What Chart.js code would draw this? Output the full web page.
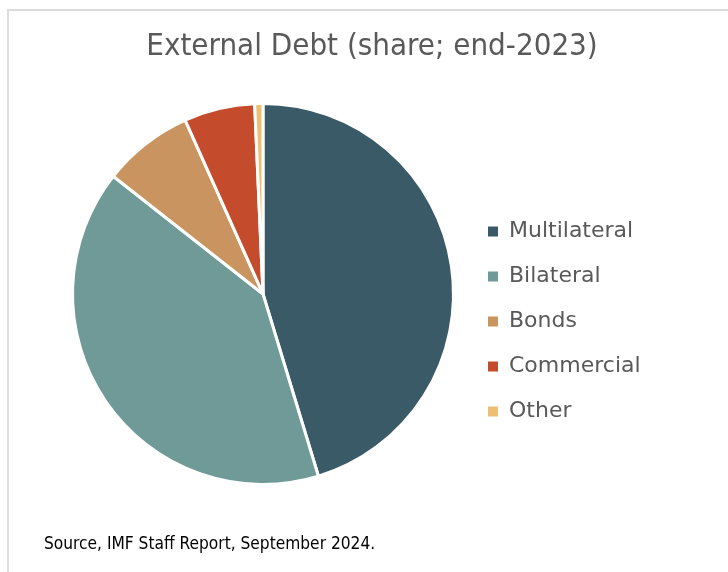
<!DOCTYPE html>
<html>
<head>
<meta charset="utf-8">
<script src="https://cdn.jsdelivr.net/npm/chart.js"></script>
<style>
  body { margin: 0; background: #fff; }
  #wrap { position: relative; width: 728px; height: 572px; overflow: hidden; }
  #frame {
    position: absolute; left: 7px; top: 9px; right: -10px; bottom: -10px;
    border-left: 2px solid #dcdcdc; border-top: 2px solid #dcdcdc;
  }
  #debtChart { position: absolute; left: 0; top: 0; }
</style>
</head>
<body>
<div id="wrap">
  <div id="frame"></div>
  <canvas id="debtChart" width="728" height="572"></canvas>
</div>
<script>
// shares of external debt at end-2023, percent
var labels = ["Multilateral", "Bilateral", "Bonds", "Commercial", "Other"];
var shares = [45.3, 40.3, 7.7, 6.0, 0.7];
var colours = ["#3a5a67", "#6f9a98", "#c9945f", "#c44b2c", "#ecbf73"];

var titleText = "External Debt (share; end-2023)";
var sourceText = "Source, IMF Staff Report, September 2024.";

// empty layout boxes: they push the pie and the legend into place
// without shifting the centred title or the source line.
// display:false keeps them out of the legend's width share
function spacer(position, weight, getWidth) {
    return {
        position: position,
        weight: weight,
        fullSize: false,
        options: { display: false },
        left: 0, top: 0, right: 0, bottom: 0, width: 0, height: 0,
        isHorizontal: function () { return false; },
        update: function (maxWidth, maxHeight) {
            this.width = getWidth();
            this.height = maxHeight;
        },
        draw: function () {}
    };
}

var spacers = {
    id: 'spacers',
    beforeInit: function (chart) {
        Chart.layouts.addBox(chart, spacer('left', 0, function () { return 17; }));
        Chart.layouts.addBox(chart, spacer('right', 3000, function () {
            var w = chart.legend ? chart.legend.width : 0;
            return Math.max(235 - w, 0);
        }));
    }
};

// legend squares without the white slice border
function legendItems(chart) {
    var items = Chart.overrides.pie.plugins.legend.labels.generateLabels(chart);
    items.forEach(function (item) { item.lineWidth = 0; });
    return items;
}

var ctx = document.getElementById("debtChart");
var debtChart = new Chart(ctx, {
    type: 'pie',
    data: {
        labels: labels,
        datasets: [
            {
                data: shares,
                backgroundColor: colours,
                borderColor: "#ffffff",
                borderWidth: 3
            }
        ]
    },
    options: {
        responsive: false,
        animation: false,
        devicePixelRatio: 1,
        layout: {
            padding: { left: 44, right: 28, top: 0, bottom: 0 }
        },
        plugins: {
            title: {
                display: true,
                text: titleText,
                color: "#595959",
                font: { family: "'Liberation Sans Narrow', 'DejaVu Sans Condensed', sans-serif", size: 31, weight: 'normal' },
                padding: { top: 28, bottom: 36.8 }
            },
            subtitle: {
                display: true,
                position: 'bottom',
                align: 'start',
                text: sourceText,
                color: "#000000",
                font: { family: "'Liberation Sans Narrow', 'DejaVu Sans Condensed', sans-serif", size: 17.2, weight: 'normal' },
                padding: { top: 48.7, bottom: 16.7 }
            },
            legend: {
                position: 'right',
                title: { display: true, text: '', font: { size: 10 }, padding: 29.5 },
                labels: {
                    boxWidth: 10,
                    boxHeight: 10,
                    padding: 23,
                    color: "#595959",
                    font: { family: "'DejaVu Sans', sans-serif", size: 22 },
                    generateLabels: legendItems
                }
            },
            tooltip: { enabled: false }
        }
    },
    plugins: [spacers]
});
</script>
</body>
</html>
